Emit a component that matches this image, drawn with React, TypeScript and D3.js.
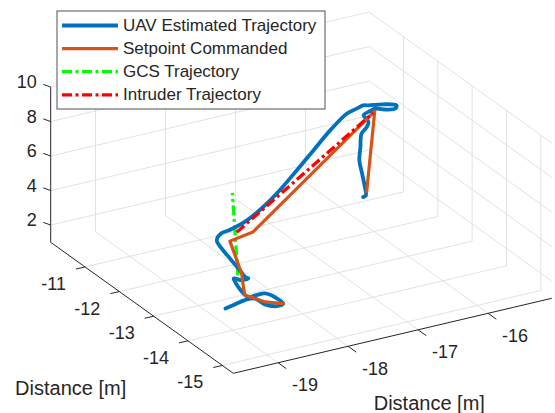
import React from 'react'
import * as d3 from 'd3'

// axis limits and ticks
const xLim = [-19.64, -15.09]
const yLim = [-15.32, -10.0]
const zLim = [1, 10]
const xTicks = [-19, -18, -17, -16]
const yTicks = [-15, -14, -13, -12, -11]
const zTicks = [2, 4, 6, 8, 10]

// UAV estimated trajectory
const uavX = [-18.83, -18.66, -18.51, -18.39, -18.37, -18.27, -18.16, -18.18, -18.23, -18.35, -18.49, -18.54, -18.55, -18.56, -18.55, -18.49, -18.39, -18.43, -18.53, -18.60, -18.67, -18.65, -18.53, -18.40, -18.13, -17.86, -17.56, -17.21, -16.88, -16.56, -16.28, -16.18, -16.09, -16.03, -15.86, -15.73, -15.79, -15.90, -16.01, -16.07, -16.18, -16.15, -16.17, -16.22, -16.25, -16.28, -16.27, -16.26, -16.27, -16.30]
const uavY = [-13.44, -13.38, -13.35, -13.40, -13.65, -13.79, -13.76, -13.57, -13.37, -13.36, -13.41, -13.37, -13.24, -13.17, -13.11, -13.22, -13.21, -13.20, -13.21, -13.10, -13.00, -12.82, -12.70, -12.70, -12.64, -12.56, -12.43, -12.21, -12.03, -11.86, -11.78, -11.86, -11.86, -11.90, -11.97, -12.10, -12.19, -12.16, -12.05, -12.03, -12.06, -12.14, -12.13, -12.08, -12.11, -12.14, -12.20, -12.26, -12.31, -12.29]
const uavZ = [1.3, 1.3, 1.35, 1.4, 1.4, 1.4, 1.4, 1.5, 1.5, 1.5, 1.6, 1.8, 2.0, 2.2, 2.3, 2.3, 2.3, 2.4, 3, 3.5, 4, 4.2, 4.3, 4.4, 4.6, 5, 5.5, 6, 6.6, 7.2, 7.8, 8.1, 8.2, 8.2, 8.2, 8.2, 8.2, 8.2, 8.2, 8.1, 8, 7.7, 7.4, 7, 6.3, 5.6, 4.9, 4.2, 3.8, 3.7]

// setpoint commanded
const spX = [-18.16, -18.33, -18.44, -18.50, -18.52, -18.52, -18.60, -18.24, -16.05, -16.21]
const spY = [-13.76, -13.58, -13.37, -13.33, -13.33, -13.28, -13.10, -13.04, -12.12, -12.21]
const spZ = [1.4, 1.4, 1.5, 1.6, 2.1, 2.8, 4.5, 4.6, 8.2, 3.8]

// GCS trajectory
const gcsX = [-18.25, -18.29]
const gcsY = [-12.62, -12.54]
const gcsZ = [1.5, 6.2]

// intruder trajectory
const intX = [-18.42, -16.09]
const intY = [-12.93, -12.16]
const intZ = [4.6, 8.2]

const W = 555
const H = 413
const FONT = '"Liberation Sans", Arial, Helvetica, sans-serif'
const TXT = '#262626'

// screen position of the box corner (xmin, ymin, zmin) and the full axis vectors
const origin = [233.3, 373.3]
const vx = [318.5, -75]
const vy = [-182.6, -131]
const vz = [0, -155.25]

const sx = d3.scaleLinear().domain(xLim).range([0, 1])
const sy = d3.scaleLinear().domain(yLim).range([0, 1])
const sz = d3.scaleLinear().domain(zLim).range([0, 1])

type P3 = [number, number, number]

function proj(p: P3): [number, number] {
  const a = sx(p[0]), b = sy(p[1]), c = sz(p[2])
  return [
    origin[0] + a * vx[0] + b * vy[0] + c * vz[0],
    origin[1] + a * vx[1] + b * vy[1] + c * vz[1],
  ]
}

function zip(xs: number[], ys: number[], zs: number[]): P3[] {
  return xs.map((x, i) => [x, ys[i], zs[i]] as P3)
}

const lineLinear = d3.line<P3>().x(d => proj(d)[0]).y(d => proj(d)[1])
const lineSmooth = d3.line<P3>().x(d => proj(d)[0]).y(d => proj(d)[1]).curve(d3.curveCatmullRom.alpha(0.5))

const seg = (a: P3, b: P3) => lineLinear([a, b]) as string

const series = [
  { name: 'UAV Estimated Trajectory', color: '#0072BD', width: 3.8, dash: null },
  { name: 'Setpoint Commanded', color: '#D95319', width: 3.2, dash: null },
  { name: 'GCS Trajectory', color: '#00FF00', width: 3.3, dash: '10,3.5,3,3.5' },
  { name: 'Intruder Trajectory', color: '#FF0000', width: 3.3, dash: '10,3.5,3,3.5' },
]

export default function App() {
  const [x0, x1] = xLim
  const [y0, y1] = yLim
  const [z0, z1] = zLim
  const grid: string[] = []
  // floor
  xTicks.forEach(x => grid.push(seg([x, y0, z0], [x, y1, z0])))
  yTicks.forEach(y => grid.push(seg([x0, y, z0], [x1, y, z0])))
  // back wall (y = ymax)
  xTicks.forEach(x => grid.push(seg([x, y1, z0], [x, y1, z1])))
  zTicks.forEach(z => grid.push(seg([x0, y1, z], [x1, y1, z])))
  // right wall (x = xmax)
  yTicks.forEach(y => grid.push(seg([x1, y, z0], [x1, y, z1])))
  zTicks.forEach(z => grid.push(seg([x1, y0, z], [x1, y1, z])))

  const uav = zip(uavX, uavY, uavZ)
  const sp = zip(spX, spY, spZ)
  const gcs = zip(gcsX, gcsY, gcsZ)
  const intr = zip(intX, intY, intZ)

  const legX = 57, legY = 11, legW = 268, legH = 98
  return (
    <svg width={W} height={H} style={{ position: 'absolute', left: 0, top: 0, background: '#fff' }}
      fontFamily={FONT}>
      <rect width={W} height={H} fill="#fff" />
      <g stroke="#dfdfdf" strokeWidth={0.9} fill="none">
        {grid.map((d, i) => <path key={i} d={d} />)}
      </g>

      {/* axes */}
      <g stroke={TXT} strokeWidth={1} fill="none">
        <path d={seg([x0, y0, z0], [x1, y0, z0])} />
        <path d={seg([x0, y0, z0], [x0, y1, z0])} />
        <path d={seg([x0, y1, z0], [x0, y1, z1])} />
        {xTicks.map(x => {
          const p = proj([x, y0, z0])
          return <line key={'xt' + x} x1={p[0]} y1={p[1]} x2={p[0] + 8.2} y2={p[1] + 5.9} />
        })}
        {yTicks.map(y => {
          const p = proj([x0, y, z0])
          return <line key={'yt' + y} x1={p[0]} y1={p[1]} x2={p[0] - 9} y2={p[1] + 2.1} />
        })}
        {zTicks.map(z => {
          const p = proj([x0, y1, z])
          return <line key={'zt' + z} x1={p[0]} y1={p[1]} x2={p[0] - 7.4} y2={p[1] - 2.7} />
        })}
      </g>
      <g fill={TXT} fontSize={18}>
        {xTicks.map(x => {
          const p = proj([x, y0, z0])
          return <text key={'xl' + x} x={p[0] + 27} y={p[1] + 22.5} textAnchor="middle" dominantBaseline="central">{x}</text>
        })}
        {yTicks.map(y => {
          const p = proj([x0, y, z0])
          return <text key={'yl' + y} x={p[0] - 19} y={p[1] + 17} textAnchor="end" dominantBaseline="central">{y}</text>
        })}
        {zTicks.map(z => {
          const p = proj([x0, y1, z])
          return <text key={'zl' + z} x={p[0] - 14} y={p[1] - 5} textAnchor="end" dominantBaseline="central">{z}</text>
        })}
      </g>
      <g fill={TXT} fontSize={20}>
        <text x={70.7} y={388} textAnchor="middle" dominantBaseline="central">Distance [m]</text>
        <text x={429.3} y={402.5} textAnchor="middle" dominantBaseline="central">Distance [m]</text>
      </g>

      {/* data */}
      <g fill="none" strokeLinejoin="round" strokeLinecap="round">
        <path d={lineLinear(gcs) as string} stroke={series[2].color} strokeWidth={series[2].width}
          strokeDasharray={series[2].dash as string} strokeLinecap="butt" />
        <path d={lineSmooth(uav) as string} stroke={series[0].color} strokeWidth={series[0].width} />
        <path d={lineLinear(sp) as string} stroke={series[1].color} strokeWidth={series[1].width} />
        <path d={lineLinear(intr) as string} stroke={series[3].color} strokeWidth={series[3].width}
          strokeDasharray={series[3].dash as string} strokeLinecap="butt" />
      </g>

      {/* legend */}
      <g>
        <rect x={legX} y={legY} width={legW} height={legH} fill="#fff" stroke={TXT} strokeWidth={0.8} />
        {series.map((s, i) => {
          const cy = legY + 14.5 + i * 23.1
          return (
            <g key={s.name}>
              <line x1={legX + 5} x2={legX + 61} y1={cy} y2={cy} stroke={s.color} strokeWidth={s.width}
                strokeDasharray={s.dash ?? undefined} />
              <text x={legX + 66} y={cy} fontSize={17} fill={TXT} dominantBaseline="central">{s.name}</text>
            </g>
          )
        })}
      </g>
    </svg>
  )
}
